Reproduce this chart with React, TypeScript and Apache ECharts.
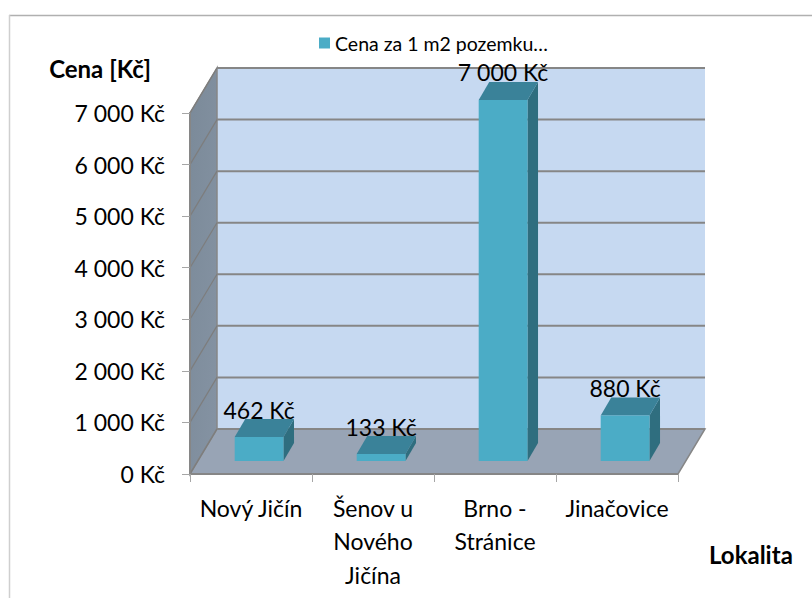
import React, { useEffect, useRef } from "react";
import * as echarts from "echarts";

const categories = ["Nový Jičín", "Šenov u\nNového\nJičína", "Brno -\nStránice", "Jinačovice"];
const prices = [462, 133, 7000, 880];
const yTicks = [0, 1000, 2000, 3000, 4000, 5000, 6000, 7000];
const seriesName = "Cena za 1 m2 pozemku…";
const yName = "Cena [Kč]";
const xName = "Lokalita";

const FONT = "Lato, 'Open Sans', sans-serif";
const DEPTH_X = 27;
const DEPTH_Y = -45;

const fmt = (v: number) => String(v).replace(/\B(?=(\d{3})+$)/g, " ") + " Kč";

const wallsItem = (params: any, api: any) => {
  const cs = params.coordSys;
  const l = cs.x, r = cs.x + cs.width, t = cs.y, b = cs.y + cs.height;
  const dx = DEPTH_X, dy = DEPTH_Y;
  const edge = { stroke: "#868686", lineWidth: 1.5 };
  return {
    type: "group",
    children: [
      { type: "polygon", shape: { points: [[l + dx, t + dy], [r + dx, t + dy], [r + dx, b + dy], [l + dx, b + dy]] }, style: { fill: "#c6d9f1" } },
      {
        type: "polygon",
        shape: { points: [[l, t], [l + dx, t + dy], [l + dx, b + dy], [l, b]] },
        style: { fill: new echarts.graphic.LinearGradient(0, 0, 1, 1, [{ offset: 0, color: "#7b8a99" }, { offset: 1, color: "#8593a3" }]), ...edge },
      },
      {
        type: "polygon",
        shape: { points: [[l, b], [r, b], [r + dx, b + dy], [l + dx, b + dy]] },
        style: { fill: "#98a4b5", ...edge },
      },
    ],
  };
};

const gridItem = (params: any, api: any) => {
  const cs = params.coordSys;
  const v = api.value(0);
  const y = api.coord([0, v])[1];
  const l = cs.x, r = cs.x + cs.width;
  return {
    type: "group",
    children: [
      { type: "line", shape: { x1: l, y1: y, x2: l + DEPTH_X, y2: y + DEPTH_Y }, style: { stroke: "#7d7d7d", lineWidth: 1.2 } },
      { type: "line", shape: { x1: l + DEPTH_X, y1: y + DEPTH_Y, x2: r + DEPTH_X, y2: y + DEPTH_Y }, style: { stroke: "#868686", lineWidth: 2 } },
    ],
  };
};

const barItem = (params: any, api: any) => {
  const idx = api.value(0);
  const val = api.value(1);
  const base = api.coord([idx, 0]);
  const top = api.coord([idx, val]);
  const w = api.size([1, 0])[0] * 0.4;
  const cx = base[0] + DEPTH_X * 0.3;
  const shift = DEPTH_Y * 0.29;
  const x0 = cx - w / 2, x1 = cx + w / 2;
  const yb = base[1] + shift, yt = top[1] + shift;
  const dx = DEPTH_X * 0.39, dy = DEPTH_Y * 0.4;
  return {
    type: "group",
    children: [
      { type: "polygon", shape: { points: [[x1, yb], [x1 + dx, yb + dy], [x1 + dx, yt + dy], [x1, yt]] }, style: { fill: "#2f6e7f" } },
      { type: "polygon", shape: { points: [[x0, yt], [x1, yt], [x1 + dx, yt + dy], [x0 + dx, yt + dy]] }, style: { fill: "#3a8299" } },
      { type: "rect", shape: { x: x0, y: yt, width: w, height: yb - yt }, style: { fill: "#4bacc6" } },
      {
        type: "text",
        style: { text: fmt(val), x: cx, y: yt + dy + 2, align: "center", verticalAlign: "bottom", fill: "#000", font: `23px ${FONT}` },
      },
    ],
  };
};

export default function App() {
  const ref = useRef<HTMLDivElement>(null);
  useEffect(() => {
    document.body.style.margin = "0";
    const chart = echarts.init(ref.current!, undefined, { renderer: "svg" });
    chart.setOption({
      animation: false,
      backgroundColor: "#fff",
      textStyle: { fontFamily: FONT },
      legend: {
        show: true,
        data: [seriesName],
        left: 314,
        top: 28,
        icon: "rect",
        itemWidth: 11,
        itemHeight: 11,
        itemGap: 4,
        textStyle: { fontSize: 19.5, color: "#000", fontFamily: FONT },
      },
      grid: { left: 190, right: 134, top: 113, bottom: 124, containLabel: false, outerBoundsMode: "none" },
      xAxis: {
        type: "category",
        data: categories,
        z: 5,
        name: xName,
        nameLocation: "end",
        nameGap: 31,
        nameTextStyle: { fontSize: 24, fontWeight: "bold", color: "#000", verticalAlign: "top", padding: [68, 0, 0, 0], fontFamily: FONT },
        axisLine: { show: true, lineStyle: { color: "#868686", width: 2 } },
        axisTick: { show: true, length: 8, alignWithLabel: false, lineStyle: { color: "#a6a6a6", width: 1 } },
        axisLabel: { color: "#000", fontSize: 23, margin: 17, lineHeight: 33.5, interval: 0, fontFamily: FONT },
      },
      yAxis: {
        type: "value",
        min: 0,
        max: 7000,
        interval: 1000,
        z: 5,
        name: yName,
        nameLocation: "end",
        nameGap: 33,
        nameTextStyle: { fontSize: 24, fontWeight: "bold", color: "#000", align: "right", padding: [0, 39, 0, 0], fontFamily: FONT },
        splitLine: { show: false },
        axisLine: { show: true, lineStyle: { color: "#868686", width: 2 } },
        axisTick: { show: true, length: 8, lineStyle: { color: "#a6a6a6", width: 1 } },
        axisLabel: { color: "#000", fontSize: 23, margin: 25, padding: [4, 0, 0, 0], formatter: (v: number) => fmt(v), fontFamily: FONT },
      },
      series: [
        { type: "custom", name: "walls", silent: true, z: 1, renderItem: wallsItem, data: [[0]], encode: { x: -1, y: -1 } },
        { type: "custom", name: "grid", silent: true, z: 1.5, renderItem: gridItem, data: yTicks.map((v) => [v]), encode: { y: 0 } },
        { type: "custom", name: seriesName, z: 3, renderItem: barItem, itemStyle: { color: "#4bacc6" }, data: prices.map((v, i) => [i, v]), encode: { x: 0, y: 1 } },
      ],
      graphic: [
        { type: "line", silent: true, shape: { x1: 9, y1: 15.5, x2: 812, y2: 15.5 }, style: { stroke: "#b0b0b0", lineWidth: 1.5 } },
        { type: "line", silent: true, shape: { x1: 9.5, y1: 15, x2: 9.5, y2: 598 }, style: { stroke: "#cfcfcf", lineWidth: 1.5 } },
      ],
    });
    return () => chart.dispose();
  }, []);
  return <div ref={ref} style={{ width: 812, height: 598 }} />;
}
